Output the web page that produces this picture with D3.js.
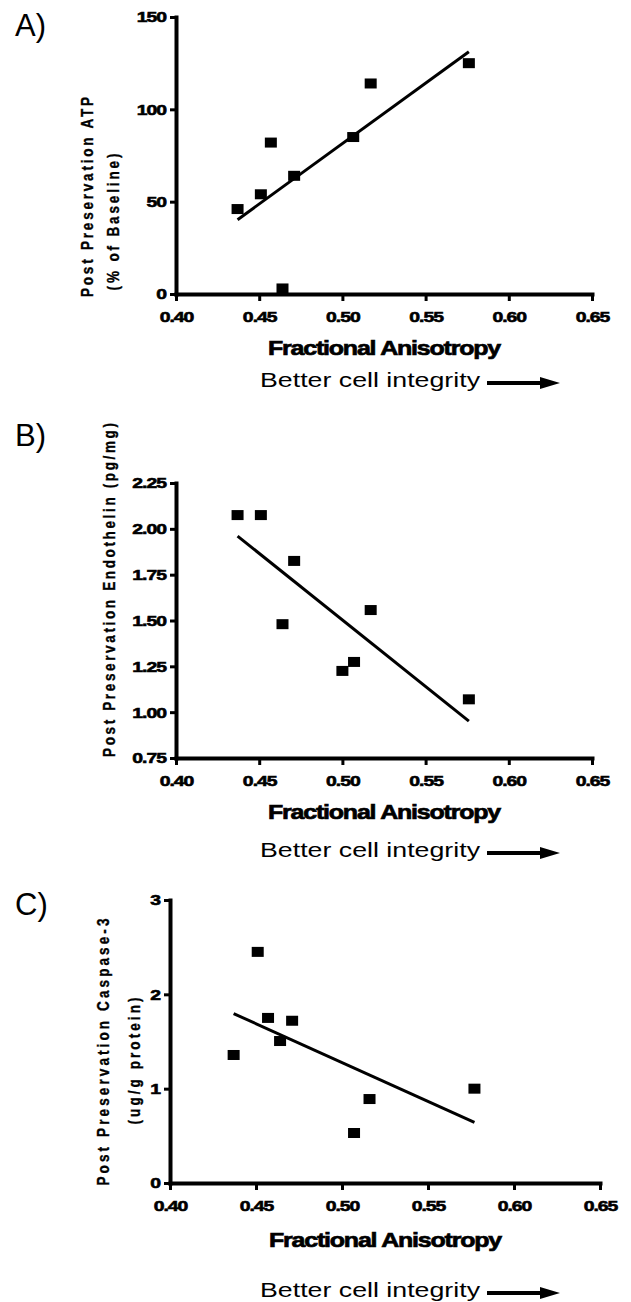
<!DOCTYPE html>
<html>
<head>
<meta charset="utf-8">
<script src="https://cdn.jsdelivr.net/npm/d3@7"></script>
<style>
  body { margin: 0; background: #fff; }
  svg { display: block; }
</style>
</head>
<body>
<div id="chart"></div>
<script>
// x ticks shared by the three panels
const faTicks = [0.40, 0.45, 0.50, 0.55, 0.60, 0.65];

// A) ATP
const faA = [0.437, 0.451, 0.457, 0.464, 0.471, 0.5065, 0.517, 0.576];
const atp = [46, 54, 82, 3, 64, 85, 114, 125];
const atpTicks = [0, 50, 100, 150];

// B) Endothelin
const faB = [0.437, 0.451, 0.464, 0.471, 0.500, 0.507, 0.517, 0.576];
const endothelin = [2.075, 2.075, 1.48, 1.825, 1.225, 1.274, 1.557, 1.07];
const endoTicks = [0.75, 1.00, 1.25, 1.50, 1.75, 2.00, 2.25];

// C) Caspase-3
const faC = [0.437, 0.451, 0.457, 0.464, 0.471, 0.507, 0.516, 0.577];
const caspase = [1.357, 2.45, 1.75, 1.505, 1.72, 0.53, 0.89, 1.00];
const caspTicks = [0, 1, 2, 3];

const FONT = "'Liberation Sans', Arial, Helvetica, sans-serif";
const SX = 1.25; // the figure is stretched sideways

const panels = [
  { tag: "A)", tagY: 36, xs: faA, ys: atp, yTicks: atpTicks, fmt: d3.format("d"),
    x0: 176, x1: 592, yTop: 17, yBottom: 294,
    yLabel: [
      { text: "Post Preservation ATP", x: 87, y: 197, len: 200 },
      { text: "(% of Baseline)", x: 113, y: 222, len: 137 }
    ],
    faY: 355, betterY: 387, betterX: 260 },
  { tag: "B)", tagY: 446, xs: faB, ys: endothelin, yTicks: endoTicks, fmt: d3.format(".2f"),
    x0: 176, x1: 592, yTop: 483, yBottom: 758,
    yLabel: [
      { text: "Post Preservation Endothelin (pg/mg)", x: 109, y: 590, len: 334 }
    ],
    faY: 819, betterY: 857, betterX: 260 },
  { tag: "C)", tagY: 915, xs: faC, ys: caspase, yTicks: caspTicks, fmt: d3.format("d"),
    x0: 170, x1: 600, yTop: 900, yBottom: 1183,
    yLabel: [
      { text: "Post Preservation Caspase-3", x: 103, y: 1052, len: 267 },
      { text: "(ug/g protein)", x: 134, y: 1061, len: 127 }
    ],
    faY: 1247, betterY: 1297, betterX: 260 }
];

const svg = d3.select("#chart").append("svg")
  .attr("width", 631)
  .attr("height", 1302)
  .style("font-family", FONT);

function fitLine(xs, ys) {
  const mx = d3.mean(xs), my = d3.mean(ys);
  let sxy = 0, sxx = 0;
  xs.forEach((v, i) => { sxy += (v - mx) * (ys[i] - my); sxx += (v - mx) ** 2; });
  const slope = sxy / sxx;
  const ext = d3.extent(xs);
  return ext.map(v => [v, my + slope * (v - mx)]);
}

function drawPanel(p) {
  const x = d3.scaleLinear().domain([faTicks[0], faTicks[faTicks.length - 1]]).range([p.x0, p.x1]);
  const y = d3.scaleLinear().domain(d3.extent(p.yTicks)).range([p.yBottom, p.yTop]);
  const g = svg.append("g");

  // panel tag
  g.append("text")
    .attr("x", 15).attr("y", p.tagY)
    .attr("font-size", 31)
    .text(p.tag);

  // axes
  const xAxis = g.append("g")
    .attr("transform", `translate(0,${p.yBottom})`)
    .call(d3.axisBottom(x).tickValues(faTicks).tickFormat(d3.format(".2f"))
      .tickSize(7).tickSizeOuter(0).tickPadding(10));
  const yAxis = g.append("g")
    .attr("transform", `translate(${p.x0},0)`)
    .call(d3.axisLeft(y).tickValues(p.yTicks).tickFormat(p.fmt)
      .tickSize(6).tickSizeOuter(0).tickPadding(2));

  [xAxis, yAxis].forEach(ax => {
    ax.select(".domain").attr("stroke", "#000").attr("stroke-width", 4).attr("stroke-linecap", "square");
    ax.selectAll(".tick line").attr("stroke", "#000").attr("stroke-width", 3);
    ax.selectAll(".tick text")
      .attr("fill", "#000")
      .attr("stroke", "#000")
      .attr("stroke-width", 0.6)
      .attr("font-family", FONT)
      .attr("font-weight", "bold")
      .attr("font-size", 15.5)
      .attr("letter-spacing", -0.8)
      .attr("transform", `scale(${SX},1)`);
  });

  // y label lines, rotated
  p.yLabel.forEach(l => {
    g.append("text")
      .attr("transform", `translate(${l.x},${l.y}) scale(${SX},1) rotate(-90)`)
      .attr("text-anchor", "middle")
      .attr("dy", "0.36em")
      .attr("font-weight", "bold")
      .attr("font-size", 13.5)
      .attr("stroke", "#000")
      .attr("stroke-width", 0.3)
      .attr("textLength", l.len)
      .attr("lengthAdjust", "spacing")
      .text(l.text);
  });

  // x label
  g.append("text")
    .attr("x", (p.x0 + p.x1) / 2).attr("y", p.faY)
    .attr("text-anchor", "middle")
    .attr("font-weight", "bold")
    .attr("font-size", 21)
    .attr("letter-spacing", -1)
    .attr("stroke", "#000")
    .attr("stroke-width", 0.7)
    .attr("textLength", 232)
    .attr("lengthAdjust", "spacingAndGlyphs")
    .text("Fractional Anisotropy");

  // "Better cell integrity" with arrow
  g.append("text")
    .attr("x", p.betterX).attr("y", p.betterY)
    .attr("font-size", 20.5)
    .attr("textLength", 220)
    .attr("lengthAdjust", "spacingAndGlyphs")
    .text("Better cell integrity");
  const ax0 = p.betterX + 227, ax1 = ax0 + 73, ay = p.betterY - 4;
  g.append("path")
    .attr("d", `M${ax0},${ay - 2}H${ax1 - 20}V${ay - 6}L${ax1},${ay}L${ax1 - 20},${ay + 6}V${ay + 2}H${ax0}Z`)
    .attr("fill", "#000");

  // regression line
  const fit = fitLine(p.xs, p.ys);
  g.append("line")
    .attr("x1", x(fit[0][0])).attr("y1", y(fit[0][1]))
    .attr("x2", x(fit[1][0])).attr("y2", y(fit[1][1]))
    .attr("stroke", "#000").attr("stroke-width", 3);

  // points
  const w = 12, h = 10;
  g.selectAll("rect.pt")
    .data(p.xs.map((v, i) => [v, p.ys[i]]))
    .join("rect")
    .attr("class", "pt")
    .attr("x", d => x(d[0]) - w / 2)
    .attr("y", d => y(d[1]) - h / 2)
    .attr("width", w).attr("height", h)
    .attr("fill", "#000");
}

panels.forEach(drawPanel);
</script>
</body>
</html>
